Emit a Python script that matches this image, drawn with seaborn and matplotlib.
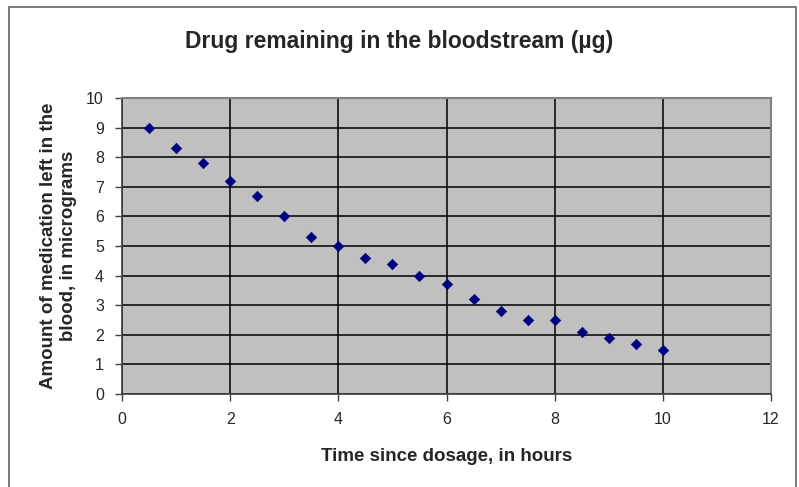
import seaborn as sns
import matplotlib.pyplot as plt
import pandas as pd
from matplotlib.patches import Rectangle

hours = [0.5, 1, 1.5, 2, 2.5, 3, 3.5, 4, 4.5, 5, 5.5, 6, 6.5, 7, 7.5, 8, 8.5, 9, 9.5, 10]
micrograms = [9.0, 8.3, 7.8, 7.2, 6.7, 6.0, 5.3, 5.0, 4.6, 4.4, 4.0, 3.7, 3.2, 2.8, 2.5, 2.5, 2.1, 1.9, 1.7, 1.5]
x_ticks = [0, 2, 4, 6, 8, 10, 12]
y_ticks = list(range(0, 11))

sns.set_style("white")
plt.rcParams['font.family'] = ['Liberation Sans', 'DejaVu Sans']

df = pd.DataFrame({"hours": hours, "micrograms": micrograms})

fig = plt.figure(figsize=(7.99, 4.87), dpi=100)
ax = fig.add_axes([0.1527, 0.191, 0.8123, 0.6078])
ax.set_facecolor('#c0c0c0')

sns.scatterplot(data=df, x="hours", y="micrograms", marker='D', color='#000080',
                s=28, edgecolor='#000080', linewidth=0.5, ax=ax, zorder=3)

ax.set_xlim(0, 12)
ax.set_ylim(0, 10)
ax.set_xticks(x_ticks)
ax.set_yticks(y_ticks)
ax.grid(True, color='black', linewidth=1.1)
ax.set_axisbelow(True)
# plot area frame: dark axes on left/bottom, thin grey border on top/right
for side in ['top', 'right']:
    ax.spines[side].set_color('#808080')
    ax.spines[side].set_linewidth(1.5)
for side in ['left', 'bottom']:
    ax.spines[side].set_color('#404040')
    ax.spines[side].set_linewidth(1.2)
ax.tick_params(axis='both', direction='out', length=5, width=1, color='#404040',
               labelsize=11.5, pad=8, bottom=True, left=True)

ax.set_xlabel('Time since dosage, in hours', fontsize=13.5, fontweight='bold', va='center')
ax.xaxis.set_label_coords(0.5, -0.21)
ax.set_ylabel('Amount of medication left in the\nblood, in micrograms', fontsize=13.5,
              fontweight='bold', va='center')
ax.yaxis.set_label_coords(-0.098, 0.5)
fig.text(0.5, 0.914, 'Drug remaining in the bloodstream (\u00b5g)', ha='center', va='center',
         fontsize=16.5, fontweight='bold')

fig.patches.append(Rectangle((0.0113, -0.05), 0.985, 1.0356, transform=fig.transFigure,
                             fill=False, edgecolor='#707070', linewidth=1.3))

fig.savefig('out.png', dpi=100)
